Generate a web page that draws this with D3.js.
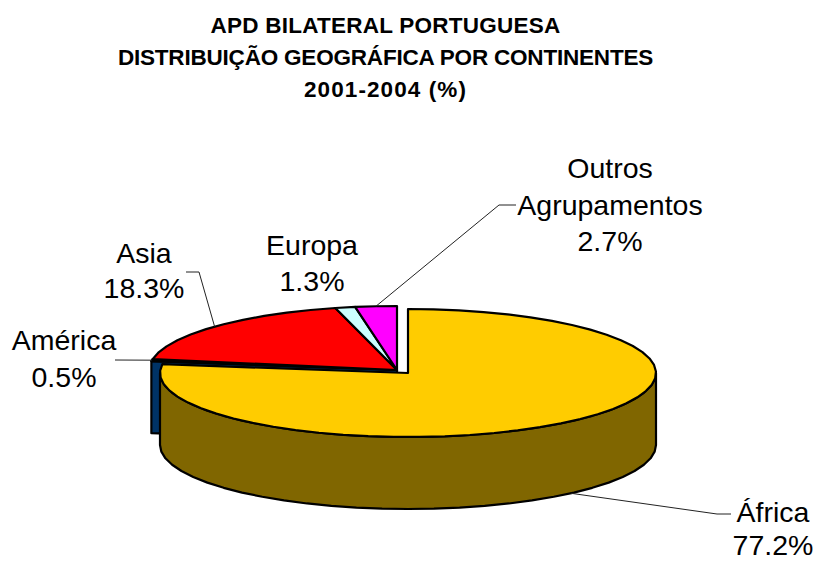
<!DOCTYPE html>
<html>
<head>
<meta charset="utf-8">
<script src="https://cdn.jsdelivr.net/npm/d3@7"></script>
<style>
  body { margin: 0; background: #fff; }
  text { font-family: "Liberation Sans", Arial, sans-serif; fill: #000; }
  .title { font-size: 22.5px; font-weight: bold; text-anchor: middle; }
  .label { font-size: 28.5px; text-anchor: middle; }
</style>
</head>
<body>
<div id="chart"></div>
<script>
// chart values
const categories = ["África", "América", "Asia", "Europa", "Outros Agrupamentos"];
const shares = [77.2, 0.5, 18.3, 1.3, 2.7];
const topColors = ["#FFCC00", "#003366", "#FF0000", "#CCFFFF", "#FF00FF"];
const sideColors = ["#806600", "#003366", "#800000", "#668080", "#800080"];
const titleLines = ["APD BILATERAL PORTUGUESA", "DISTRIBUIÇÃO GEOGRÁFICA POR CONTINENTES", "2001-2004 (%)"];

// where the label text and the leader elbow go
const labelLayout = [
    {x: 773, y: 522, gap: 33, lines: ["África", "77.2%"], elbow: [[717, 514], [731, 514]], onWall: true},
    {x: 64, y: 350, gap: 37, lines: ["América", "0.5%"], elbow: [[115, 360]]},
    {x: 144, y: 263, gap: 35, lines: ["Asia", "18.3%"], elbow: [[199, 272], [186, 272]]},
    {x: 312, y: 255, gap: 36, lines: ["Europa", "1.3%"], elbow: null},
    {x: 610, y: 178, gap: 36.5, lines: ["Outros", "Agrupamentos", "2.7%"], elbow: [[499, 205], [516, 205]]}
];
const titleSpacing = [0.25, -0.2, 1.1];

const width = 814, height = 561;
const rx = 248, ry = 64, depth = 72;
const africaCentre = [408, 373];   // the exploded slice
const restCentre = [397, 370];
const step = Math.PI / 30;

const svg = d3.select("#chart").append("svg")
    .attr("width", width)
    .attr("height", height);

// flat pie squashed into an ellipse, angles clockwise from the top
const pie = d3.pie().sort(null)(shares);
const line = d3.line();

function project(c, angle, drop = 0) {
    return [c[0] + rx * Math.sin(angle), c[1] - ry * Math.cos(angle) + drop];
}

function arcPoints(c, a0, a1, drop = 0) {
    let n = Math.max(1, Math.ceil((a1 - a0) / step));
    return d3.range(n + 1).map(i => project(c, a0 + (a1 - a0) * i / n, drop));
}

const slices = pie.map((d, i) => ({
    name: categories[i],
    start: d.startAngle,
    end: d.endAngle,
    top: topColors[i],
    side: sideColors[i],
    centre: i === 0 ? africaCentre : restCentre,
    layout: labelLayout[i]
}));

function drawShape(points, fill) {
    svg.append("path")
        .attr("d", line(points) + "Z")
        .attr("fill", fill)
        .attr("stroke", "#000")
        .attr("stroke-width", 2.2)
        .attr("stroke-linejoin", "round");
}

// cut wall of the rest of the pie, only its left end shows behind Africa
let america = slices[1];
let apex = america.centre;
let corner = project(apex, america.start);
drawShape([apex, corner, [corner[0], corner[1] + depth], [apex[0], apex[1] + depth]], america.side);

// tops of the small slices
slices.slice(1).forEach(s => {
    drawShape([s.centre].concat(arcPoints(s.centre, s.start, s.end)), s.top);
});

// Africa: front wall then top
let africa = slices[0];
let wallTop = arcPoints(africa.centre, Math.PI / 2, 3 * Math.PI / 2);
let wallBottom = arcPoints(africa.centre, Math.PI / 2, 3 * Math.PI / 2, depth).reverse();
drawShape(wallTop.concat(wallBottom), africa.side);
drawShape([africa.centre].concat(arcPoints(africa.centre, africa.start, africa.end)), africa.top);

// leader lines start from the middle of each slice edge
slices.forEach(s => {
    if (!s.layout.elbow) return;
    let mid = (s.start + s.end) / 2;
    let anchor = project(s.centre, mid, s.layout.onWall ? depth : 0);
    svg.append("path")
        .attr("d", line([anchor].concat(s.layout.elbow)))
        .attr("fill", "none")
        .attr("stroke", "#222")
        .attr("stroke-width", 1);
});

// labels
slices.forEach(s => {
    s.layout.lines.forEach((t, i) => {
        svg.append("text")
            .attr("class", "label")
            .attr("x", s.layout.x)
            .attr("y", s.layout.y + i * s.layout.gap)
            .text(t);
    });
});

// title
titleLines.forEach((t, i) => {
    svg.append("text")
        .attr("class", "title")
        .attr("x", 385.5)
        .attr("y", 33 + i * 32)
        .style("letter-spacing", titleSpacing[i] + "px")
        .text(t);
});
</script>
</body>
</html>
